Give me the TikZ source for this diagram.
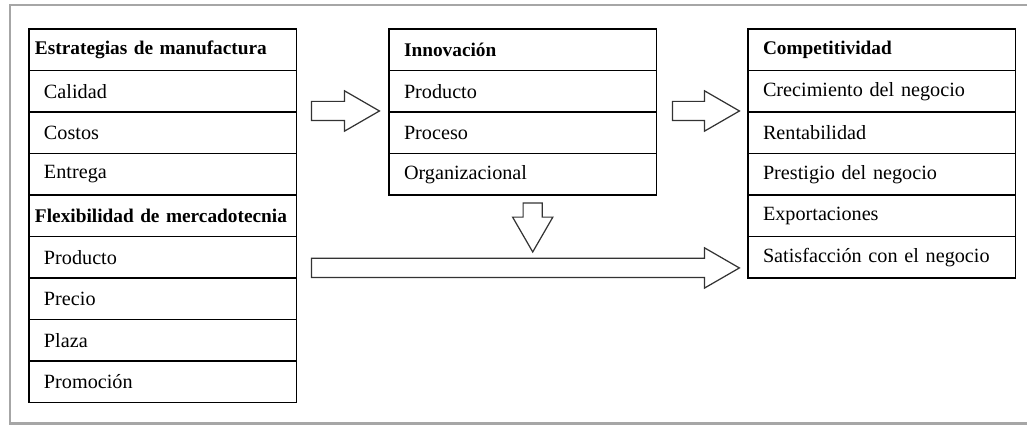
\documentclass[tikz,border=0pt]{standalone}
\usepackage{fontspec}
\setmainfont{Liberation Serif}
\usetikzlibrary{positioning}
\usetikzlibrary{calc}
\usetikzlibrary{shapes.arrows}
\tikzset{
row/.style={draw,
  line width=0.8pt,
    outer sep=0pt,
    inner ysep=0pt,
    inner xsep=0.3cm,
    text width=4.75cm,
    minimum height=0.83cm,
    align=left,
    font=\fontsize{11.5}{13}\selectfont},
hrow/.style={row,
  font=\fontsize{11}{13}\selectfont\bfseries},
lhrow/.style={hrow,
  inner xsep=0.12cm,
    text width=5.11cm},
barrow/.style={single arrow,
  draw=black!80,
    line width=0.7pt,
    inner xsep=0pt,
    inner ysep=0.18cm,
    outer sep=0pt,
    single arrow head extend=0.21cm,
    single arrow tip angle=60},
}
\begin{document}
\begin{tikzpicture}[x=0.02cm,y=-0.02cm]
  \useasboundingbox (0,0) rectangle (1027,425);

  % outer frame
  \draw [gray!70, line width=1.2pt] (1027,5) -- (10,5) -- (10,423.5) -- (1027,423.5);

  % Nodes
  \node [lhrow, anchor=north west] (est) at (29,29) {Estrategias de manufactura};
  \node [row, below=0pt of est] (cal) {Calidad};
  \node [row, below=0pt of cal] (cos) {Costos};
  \node [row, below=0pt of cos] (ent) {Entrega};
  \node [lhrow, below=0pt of ent] (flex) {Flexibilidad de mercadotecnia};
  \node [row, below=0pt of flex] (prod) {Producto};
  \node [row, below=0pt of prod] (prec) {Precio};
  \node [row, below=0pt of prec] (plaza) {Plaza};
  \node [row, below=0pt of plaza] (prom) {Promoción};

  \node [hrow, anchor=north west] (inno) at (389,29) {Innovación};
  \node [row, below=0pt of inno] (iprod) {Producto};
  \node [row, below=0pt of iprod] (iproc) {Proceso};
  \node [row, below=0pt of iproc] (iorg) {Organizacional};

  \node [hrow, anchor=north west] (comp) at (748,29) {Competitividad};
  \node [row, below=0pt of comp] (crec) {Crecimiento del negocio};
  \node [row, below=0pt of crec] (rent) {Rentabilidad};
  \node [row, below=0pt of rent] (prest) {Prestigio del negocio};
  \node [row, below=0pt of prest] (expo) {Exportaciones};
  \node [row, below=0pt of expo] (satis) {Satisfacción con el negocio};

  % Block arrows
  \node [barrow, minimum height=1.36cm, anchor=tail] (a1) at ($(cal.south east)+(15,-1)$) {};
  \node [barrow, minimum height=1.34cm, anchor=tail] (a2) at ($(iprod.south east)+(16,-1)$) {};
  \node [barrow, minimum height=0.98cm, rotate=-90, anchor=tail] (a3) at ($(iorg.south)+(10,8)$) {};
  \node [barrow, minimum height=8.56cm, anchor=tail] (a4) at ($(prod.south east)+(15,-10)$) {};
\end{tikzpicture}
\end{document}
